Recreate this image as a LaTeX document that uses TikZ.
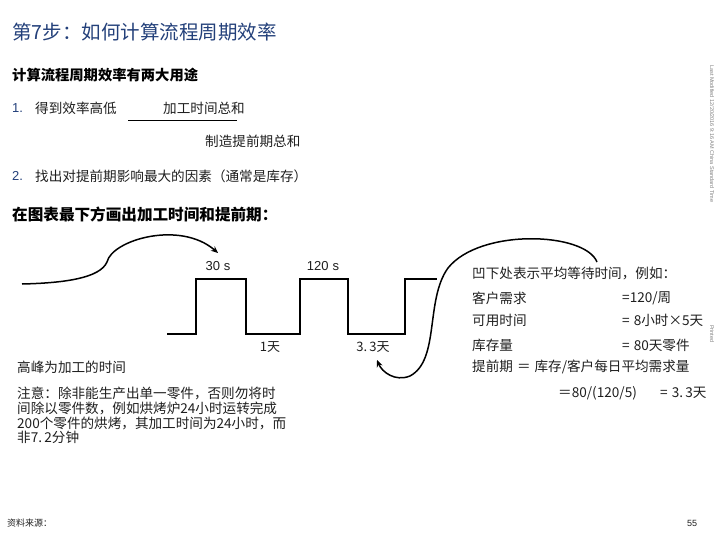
\documentclass[tikz,border=0pt]{standalone}
\usepackage{fontspec}
\setmainfont{Noto Sans CJK SC}
\newfontfamily\latinfont{Liberation Sans}
\usetikzlibrary{arrows.meta}
\definecolor{titleblue}{RGB}{35,64,122}
\definecolor{textgray}{RGB}{30,30,30}
\tikzset{
  txt/.style={anchor=west,inner sep=0pt,font=\fontsize{13.6}{15}\selectfont,text=textgray},
  hdr/.style={anchor=west,inner sep=0pt,font=\fontsize{14.3}{16}\selectfont\bfseries,text=black},
  num/.style={anchor=west,inner sep=0pt,font=\latinfont\fontsize{13}{15}\selectfont,text=titleblue},
  lbl/.style={inner sep=0pt,font=\fontsize{13}{15}\selectfont,text=textgray},
  wave/.style={line width=1.8pt,line join=miter},
  curve/.style={line width=1.5pt,-{Stealth[length=7pt,width=6pt]}},
  tiny/.style={inner sep=0pt,font=\latinfont\fontsize{5.5}{6}\selectfont,text=gray,rotate=-90,anchor=west}
}
\begin{document}
\begin{tikzpicture}[x=1pt,y=-1pt]
\useasboundingbox (0,0) rectangle (720,540);
% title
\node[anchor=west,inner sep=0pt,font=\fontsize{19.5}{22}\selectfont,text=titleblue] (title) at (12,32) {第7步：如何计算流程周期效率};
\node[hdr] (h1) at (12,75) {计算流程周期效率有两大用途};
\node[num] (n1) at (12,108) {1.};
\node[txt] (t1) at (35,108) {得到效率高低};
\node[txt] (frac1) at (163,108) {加工时间总和};
\coordinate (ul) at (128,120);
\coordinate (ur) at (237,120);
\draw[line width=0.8pt] (ul) -- (ur);
\node[txt] (frac2) at (205,141) {制造提前期总和};
\node[num] (n2) at (12,176) {2.};
\node[txt] (t2) at (35,176) {找出对提前期影响最大的因素（通常是库存）};
\node[hdr,font=\fontsize{15.6}{17}\selectfont\bfseries] (h2) at (12,214) {在图表最下方画出加工时间和提前期：};
% waveform
\draw[wave] (167,334) -- (196,334) -- (196,279) -- (246,279) -- (246,334) -- (300,334) -- (300,279) -- (348,279) -- (348,334) -- (405,334) -- (405,279) -- (437,279);
\node[lbl,font=\latinfont\fontsize{13}{15}\selectfont] (p1) at (218,266) {30\hspace{4pt}s};
\node[lbl,font=\latinfont\fontsize{13}{15}\selectfont] (p2) at (323,266) {120\hspace{4pt}s};
\node[lbl] (d1) at (270,347) {1天};
\node[lbl] (d2) at (373,347) {3.\,3天};
% curves
\coordinate (c1s) at (22,284);
\coordinate (c1m) at (107,262);
\coordinate (c1e) at (218,253);
\draw[curve] (c1s) .. controls (65,283) and (100,278) .. (c1m) .. controls (112,240) and (180,220) .. (c1e);
\coordinate (c2s) at (597,262);
\coordinate (c2a) at (448,268);
\coordinate (c2b) at (410,376);
\coordinate (c2e) at (377,360);
\draw[curve] (c2s) .. controls (585,232) and (480,228) .. (c2a) .. controls (425,300) and (440,360) .. (c2b) .. controls (395,382) and (382,372) .. (c2e);
% left notes
\node[txt] (peak) at (17,367) {高峰为加工的时间};
\node[txt] (note1) at (17,393) {注意：除非能生产出单一零件，否则勿将时};
\node[txt] (note2) at (17,408) {间除以零件数，例如烘烤炉24小时运转完成};
\node[txt] (note3) at (17,423) {200个零件的烘烤，其加工时间为24小时，而};
\node[txt] (note4) at (17,437) {非7.\,2分钟};
% right notes
\node[txt] (r0) at (472,273) {凹下处表示平均等待时间，例如：};
\node[txt] (r1) at (472,298) {客户需求};
\node[txt] (r1v) at (622,298) {=120/周};
\node[txt] (r2) at (472,320) {可用时间};
\node[txt] (r2v) at (622,320) {=\hspace{4pt}8小时×5天};
\node[txt] (r3) at (472,345) {库存量};
\node[txt] (r3v) at (622,345) {=\hspace{4pt}80天零件};
\node[txt] (r4) at (472,367) {提前期\hspace{4pt}＝\hspace{4pt}库存/客户每日平均需求量};
\node[txt] (r5) at (558,393) {＝80/(120/5)};
\node[txt] (r5v) at (660,393) {=\hspace{4pt}3.\,3天};
% footer
\node[anchor=west,inner sep=0pt,font=\fontsize{9}{10}\selectfont,text=textgray] (src) at (7,523) {资料来源：};
\node[inner sep=0pt,font=\latinfont\fontsize{9}{10}\selectfont,text=textgray] (page) at (692,523) {55};
\node[tiny] (mod) at (712,65) {Last Modified 12/20/2016 9:16 AM China Standard Time};
\node[tiny] (prt) at (712,325) {Printed};
\end{tikzpicture}
\end{document}
